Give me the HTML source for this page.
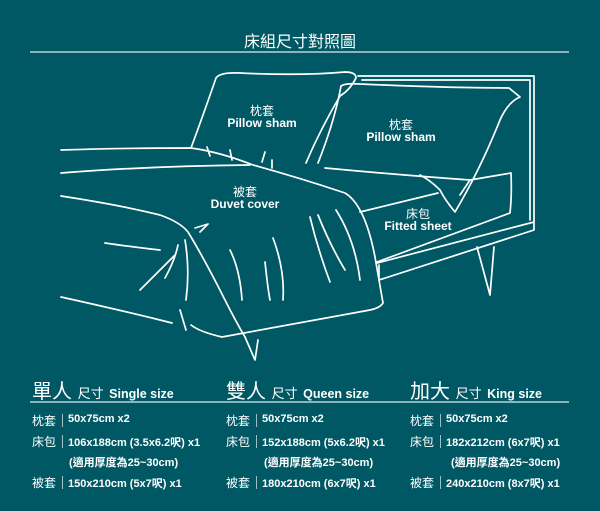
<!DOCTYPE html>
<html><head><meta charset="utf-8"><style>
body{margin:0;width:600px;height:511px;background:#005864;overflow:hidden;position:relative;font-family:"Liberation Sans","Noto Sans CJK TC",sans-serif;color:#fff}
.t{position:absolute;white-space:nowrap}
.h{font-size:20px;top:375px}
.h b{font-size:12.5px;font-weight:bold}
.h span{font-size:13px}
.r{font-size:11px;font-weight:bold;position:absolute;white-space:nowrap}
.r i{font-style:normal;font-weight:normal;font-size:12px}
.bar{position:absolute;width:1px;height:13px;background:#9fbfc4}
</style></head><body>
<div class="t" style="left:0;width:600px;text-align:center;top:28px;font-size:16px">床組尺寸對照圖</div>
<div style="position:absolute;left:30px;top:51px;width:539px;height:2px;background:#8fb3ba"></div>
<svg width="600" height="370" style="position:absolute;left:0;top:0" fill="none" stroke="#fff" stroke-width="1.7" stroke-linecap="round" stroke-linejoin="round">
<path d="M358 76 L534 76 L534 222 M362 80 L530 80 L530 220"/>
<path d="M191 148 Q205 110 216 78 Q220 72 240 73 Q300 76 345 72 Q356 72 356 78 Q350 90 340 96 Q320 130 306 163"/>
<path d="M341 86 Q335 120 318 163 M341 86 Q345 83 360 84 Q450 88 509 88 L520 97 Q508 102 500 120 Q480 170 455 212 Q445 200 440 190 Q430 180 420 175"/>
<path d="M325 168 Q400 175 470 180 L511 173 Q512 195 510 213 L377 262 M360 212 L438 193 M470 180 L460 195"/>
<path d="M377 263 L534 222 L534 230 L379 280 L379 265"/>
<path d="M477 247 L490 295 L494 247"/>
<path d="M61 150 Q120 148 191 148 Q220 152 253 165 Q300 178 345 193 Q365 205 375 257 L383 303 Q380 308 370 310 L222 337 Q200 332 191 325"/>
<path d="M61 173 Q150 166 250 165"/>
<path d="M61 196 Q120 205 160 215 Q180 222 188 232 Q205 260 225 300 Q235 320 245 337"/>
<path d="M61 297 Q120 310 172 323"/>
<path d="M245 337 L255 360 L258 340"/>
<path d="M105 243 Q140 248 160 250 M195 228 L208 224 L200 232 M165 278 Q175 260 178 245 M140 290 Q160 270 175 255 M185 240 Q190 270 186 300 M230 250 Q240 270 242 300 M265 262 Q268 290 270 300 M273 238 Q285 270 283 300 M310 217 Q318 250 330 282 M318 215 Q330 245 345 270 M336 210 Q355 240 360 280 M180 310 L186 330"/>
<path d="M207 147 L210 156 M230 150 L232 160 M265 152 L262 162 M272 160 L272 168"/>
</svg>
<div class="t" style="left:0;width:524px;text-align:center;top:102px;font-size:12px">枕套</div>
<div class="t" style="left:0;width:524px;text-align:center;top:116px;font-size:12px;font-weight:bold">Pillow sham</div>
<div class="t" style="left:0;width:802px;text-align:center;top:116px;font-size:12px">枕套</div>
<div class="t" style="left:0;width:802px;text-align:center;top:130px;font-size:12px;font-weight:bold">Pillow sham</div>
<div class="t" style="left:0;width:490px;text-align:center;top:183px;font-size:12px">被套</div>
<div class="t" style="left:0;width:490px;text-align:center;top:197px;font-size:12px;font-weight:bold">Duvet cover</div>
<div class="t" style="left:0;width:836px;text-align:center;top:205px;font-size:12px">床包</div>
<div class="t" style="left:0;width:836px;text-align:center;top:219px;font-size:12px;font-weight:bold">Fitted sheet</div>

<div class="t h" style="left:32px">單人 <span>尺寸</span> <b>Single size</b></div>
<div class="t h" style="left:226px">雙人 <span>尺寸</span> <b>Queen size</b></div>
<div class="t h" style="left:410px">加大 <span>尺寸</span> <b>King size</b></div>
<div style="position:absolute;left:30px;top:401px;width:539px;height:2px;background:#8fb3ba"></div>

<div class="r" style="left:32px;top:412px"><i>枕套</i></div><div class="bar" style="left:62px;top:414px"></div><div class="r" style="left:68px;top:413px">50x75cm x2</div>
<div class="r" style="left:32px;top:433px"><i>床包</i></div><div class="bar" style="left:62px;top:435px"></div><div class="r" style="left:68px;top:434px">106x188cm (3.5x6.2呎) x1</div>
<div class="r" style="left:69px;top:454px">(適用厚度為25~30cm)</div>
<div class="r" style="left:32px;top:474px"><i>被套</i></div><div class="bar" style="left:62px;top:476px"></div><div class="r" style="left:68px;top:475px">150x210cm (5x7呎) x1</div>

<div class="r" style="left:226px;top:412px"><i>枕套</i></div><div class="bar" style="left:256px;top:414px"></div><div class="r" style="left:262px;top:413px">50x75cm x2</div>
<div class="r" style="left:226px;top:433px"><i>床包</i></div><div class="bar" style="left:256px;top:435px"></div><div class="r" style="left:262px;top:434px">152x188cm (5x6.2呎) x1</div>
<div class="r" style="left:264px;top:454px">(適用厚度為25~30cm)</div>
<div class="r" style="left:226px;top:474px"><i>被套</i></div><div class="bar" style="left:256px;top:476px"></div><div class="r" style="left:262px;top:475px">180x210cm (6x7呎) x1</div>

<div class="r" style="left:410px;top:412px"><i>枕套</i></div><div class="bar" style="left:440px;top:414px"></div><div class="r" style="left:446px;top:413px">50x75cm x2</div>
<div class="r" style="left:410px;top:433px"><i>床包</i></div><div class="bar" style="left:440px;top:435px"></div><div class="r" style="left:446px;top:434px">182x212cm (6x7呎) x1</div>
<div class="r" style="left:451px;top:454px">(適用厚度為25~30cm)</div>
<div class="r" style="left:410px;top:474px"><i>被套</i></div><div class="bar" style="left:440px;top:476px"></div><div class="r" style="left:446px;top:475px">240x210cm (8x7呎) x1</div>
</body></html>
